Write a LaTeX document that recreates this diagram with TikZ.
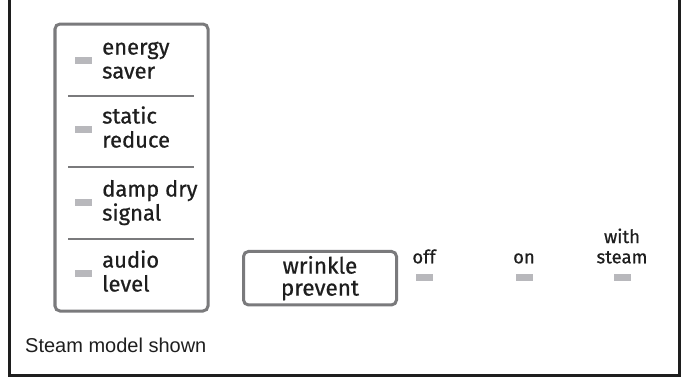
\documentclass[tikz,border=0pt]{standalone}
\usepackage{fontspec}
\setmainfont[FakeBold=0.7]{Fira Sans}
\newfontfamily\notefont{Liberation Sans}
\usetikzlibrary{positioning}
\usepackage{xcolor}
\definecolor{panelgray}{RGB}{122,122,124}
\definecolor{ledgray}{RGB}{184,184,188}
\definecolor{inkgray}{RGB}{30,30,30}
\definecolor{framegray}{RGB}{30,30,30}

\begin{document}
\begin{tikzpicture}[x=1bp,y=-1bp,
	led/.style={fill=ledgray, minimum width=17bp, minimum height=7bp, inner sep=0pt},
	keytext/.style={text=inkgray, font=\fontsize{22bp}{24bp}\selectfont, inner sep=0pt, anchor=base west},
	smalltext/.style={text=inkgray, font=\fontsize{18.5bp}{20bp}\selectfont, inner sep=0pt, anchor=base},
	keybox/.style={draw=panelgray, line width=3bp, rounded corners=5bp},
	divider/.style={draw=panelgray, line width=2bp}]
	\useasboundingbox (0,0) rectangle (683,377);
	% outer frame, open at the top
	\draw[framegray, line width=2.5bp] (9.5,-5) -- (9.5,375.5) -- (679.5,375.5) -- (679.5,-5);
	% option panel
	\node[keybox, minimum width=153bp, minimum height=287bp, inner sep=0pt] (panel) at (131.5,167.5) {};
	\foreach \y in {96,167,239}
		\draw[divider] (68,\y) -- (194,\y);
	\foreach \y/\a/\b [count=\i] in {60/energy/saver, 129/static/reduce, 202/damp dry/signal, 273/audio/level}{
		\node[led] (led\i) at (83,\y) {};
		\node[keytext] (top\i) at (102,\y-5.5) {\a};
		\node[keytext] (bot\i) at (102,\y+18.5) {\b};
	}
	% wrinkle prevent button and its settings
	\node[keybox, minimum width=153bp, minimum height=53.5bp, inner sep=0pt, align=center,
		text=inkgray, font=\fontsize{22.5bp}{22bp}\selectfont] (wrinkle) at (320,278.2) {wrinkle\\prevent};
	\foreach \x/\t [count=\i] in {424/off, 524/on, 622/steam}{
		\node[led] (set\i) at (\x,277.5) {};
		\node[smalltext] (lab\i) at (\x,263.3) {\t};
	}
	\node[smalltext] (with) at (622,243) {with};
	\node[anchor=base west, inner sep=0pt, text=framegray, font=\notefont\fontsize{20bp}{22bp}\selectfont] (note) at (25,352.7) {Steam model shown};
\end{tikzpicture}
\end{document}
